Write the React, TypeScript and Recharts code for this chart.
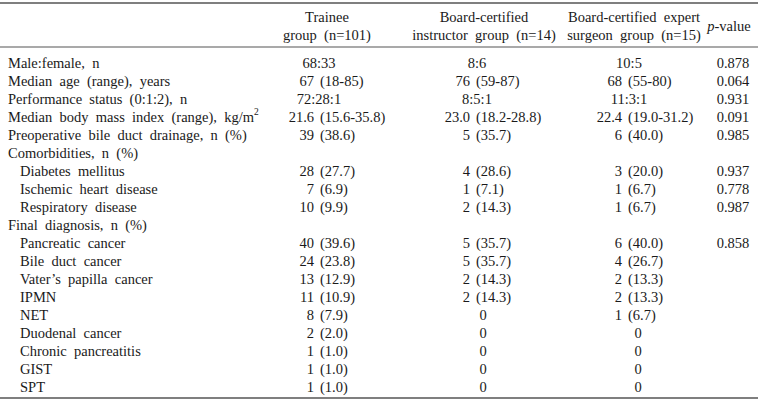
import { Surface, Layer } from 'recharts'

const headers = [
    ['Trainee', 'group  (n=101)'],
    ['Board-certified', 'instructor  group  (n=14)'],
    ['Board-certified  expert', 'surgeon  group  (n=15)'],
]

const rowLabels = [
    'Male:female,  n',
    'Median  age  (range),  years',
    'Performance  status  (0:1:2),  n',
    'Median  body  mass  index  (range),  kg/m',
    'Preoperative  bile  duct  drainage,  n  (%)',
    'Comorbidities,  n  (%)',
    'Diabetes  mellitus',
    'Ischemic  heart  disease',
    'Respiratory  disease',
    'Final  diagnosis,  n  (%)',
    'Pancreatic  cancer',
    'Bile  duct  cancer',
    'Vater\u2019s  papilla  cancer',
    'IPMN',
    'NET',
    'Duodenal  cancer',
    'Chronic  pancreatitis',
    'GIST',
    'SPT',
]

const indented = [false, false, false, false, false, false, true, true, true, false, true, true, true, true, true, true, true, true, true]

const trainee = ['68:33', '67 (18-85)', '72:28:1', '21.6 (15.6-35.8)', '39 (38.6)', '', '28 (27.7)', '7 (6.9)', '10 (9.9)', '', '40 (39.6)', '24 (23.8)', '13 (12.9)', '11 (10.9)', '8 (7.9)', '2 (2.0)', '1 (1.0)', '1 (1.0)', '1 (1.0)']
const instructor = ['8:6', '76 (59-87)', '8:5:1', '23.0 (18.2-28.8)', '5 (35.7)', '', '4 (28.6)', '1 (7.1)', '2 (14.3)', '', '5 (35.7)', '5 (35.7)', '2 (14.3)', '2 (14.3)', '0', '0', '0', '0', '0']
const expert = ['10:5', '68 (55-80)', '11:3:1', '22.4 (19.0-31.2)', '6 (40.0)', '', '3 (20.0)', '1 (6.7)', '1 (6.7)', '', '6 (40.0)', '4 (26.7)', '2 (13.3)', '2 (13.3)', '1 (6.7)', '0', '0', '0', '0']
const pValues = ['0.878', '0.064', '0.931', '0.091', '0.985', '', '0.937', '0.778', '0.987', '', '0.858', '', '', '', '', '', '', '', '']

const W = 761
const H = 402
const ROW0 = 63
const ROW_H = 18
const FONT = '"Liberation Serif", "Times New Roman", serif'
const INK = '#1a1a1a'
const SIZE = 14.5

// layout per column: header center, ratio center, zero center, number anchor
const cols = [
    { head: 327, ratio: 319, zero: 314, anchor: 314 },
    { head: 484, ratio: 477, zero: 483, anchor: 470 },
    { head: 634, ratio: 629, zero: 638, anchor: 622 },
]

const text = {
    fontFamily: FONT,
    fontSize: SIZE,
    fill: INK,
    dominantBaseline: 'central' as const,
    xmlSpace: 'preserve',
    style: { whiteSpace: 'pre' as const },
}

function Cell({ value, y, col }: { value: string; y: number; col: typeof cols[0] }) {
    if (!value) return null
    const m = value.match(/^(\S+) (\(.+\))$/)
    if (m) {
        return (
            <g>
                <text {...text} x={col.anchor} y={y} textAnchor="end">{m[1]}</text>
                <text {...text} x={col.anchor + 6} y={y} textAnchor="start">{m[2]}</text>
            </g>
        )
    }
    const cx = value === '0' ? col.zero : col.ratio
    return <text {...text} x={cx} y={y} textAnchor="middle">{value}</text>
}

export default function App() {
    const series = [trainee, instructor, expert]
    return (
        <div style={{ position: 'absolute', left: 0, top: 0, width: W, height: H, background: '#fff' }}>
            <Surface width={W} height={H}>
                <Layer>
                    <line x1={0} x2={758} y1={3} y2={3} stroke="#555" strokeWidth={1.5} />
                    <line x1={0} x2={758} y1={47} y2={47} stroke="#555" strokeWidth={1.2} />
                    <line x1={0} x2={758} y1={398} y2={398} stroke="#555" strokeWidth={1.5} />
                </Layer>
                <Layer>
                    {headers.map((h, i) => (
                        <g key={i}>
                            <text {...text} x={cols[i].head} y={17} textAnchor="middle">{h[0]}</text>
                            <text {...text} x={cols[i].head} y={35} textAnchor="middle">{h[1]}</text>
                        </g>
                    ))}
                    <text {...text} x={729} y={26} textAnchor="middle">
                        <tspan fontStyle="italic">p</tspan>-value
                    </text>
                </Layer>
                <Layer>
                    {rowLabels.map((label, i) => (
                        <text key={i} {...text} x={indented[i] ? 20 : 8} y={ROW0 + i * ROW_H} textAnchor="start">
                            {label}
                            {i === 3 ? <tspan fontSize={9.5} dy={-5}>2</tspan> : null}
                        </text>
                    ))}
                </Layer>
                <Layer>
                    {series.map((vals, c) =>
                        vals.map((v, i) => <Cell key={c + '-' + i} value={v} y={ROW0 + i * ROW_H} col={cols[c]} />)
                    )}
                    {pValues.map((v, i) =>
                        v ? <text key={i} {...text} x={733} y={ROW0 + i * ROW_H} textAnchor="middle">{v}</text> : null
                    )}
                </Layer>
            </Surface>
        </div>
    )
}
